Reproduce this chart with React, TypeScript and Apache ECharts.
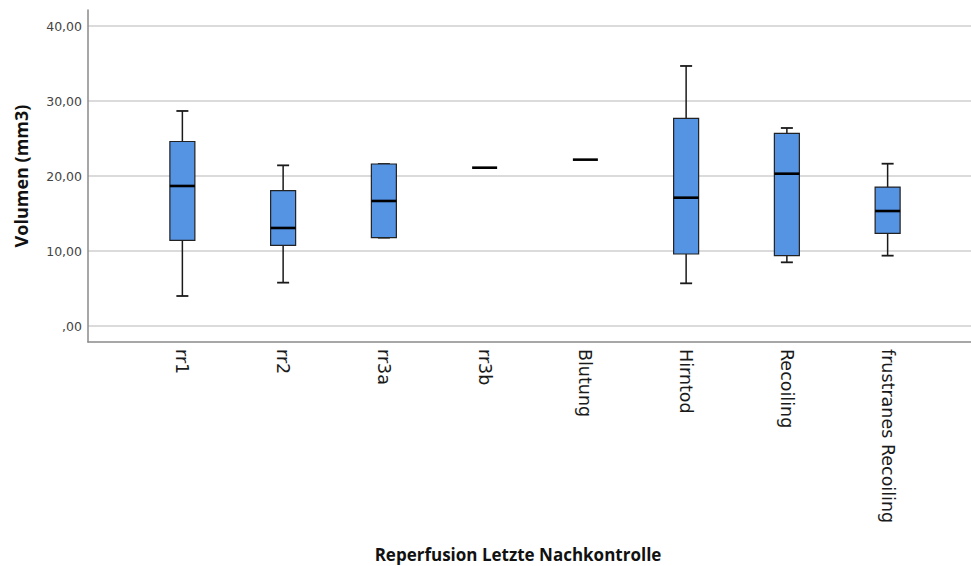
import React, { useEffect, useRef } from "react";
import * as echarts from "echarts";

const categories = ["rr1", "rr2", "rr3a", "rr3b", "Blutung", "Hirntod", "Recoiling", "frustranes Recoiling"];
// [min, q1, median, q3, max]
const mins = [4.0, 5.78, 11.78, 21.11, 22.18, 5.69, 8.49, 9.38];
const q1s = [11.42, 10.76, 11.78, 21.11, 22.18, 9.6, 9.38, 12.36];
const medians = [18.67, 13.07, 16.67, 21.11, 22.18, 17.11, 20.31, 15.33];
const q3s = [24.6, 18.04, 21.6, 21.11, 22.18, 27.69, 25.69, 18.53];
const maxs = [28.67, 21.42, 21.6, 21.11, 22.18, 34.67, 26.4, 21.64];
const yTicks = [0, 10, 20, 30, 40];

const fmt = (v: number) => (v === 0 ? ",00" : v.toFixed(2).replace(".", ","));

export default function App() {
  const ref = useRef<HTMLDivElement>(null);
  useEffect(() => {
    if (!ref.current) return;
    const chart = echarts.init(ref.current, undefined, { renderer: "svg" });
    const data = categories.map((_, i) => [i, mins[i], q1s[i], medians[i], q3s[i], maxs[i]]);
    const boxW = 25;
    const capW = 12;
    const option: any = {
      animation: false,
      backgroundColor: "#ffffff",
      title: {
        text: "Reperfusion Letzte Nachkontrolle",
        left: 518,
        top: 545,
        padding: 0,
        textAlign: "center",
        textStyle: { fontFamily: "Open Sans", fontWeight: "bold", fontSize: 17, lineHeight: 19, color: "#111" },
      },
      grid: [
        { left: 88, right: 0, top: 10, bottom: 224 },
        { left: 88, right: 0, top: 26, bottom: 240 },
        { left: 132, right: 33, top: 26, bottom: 240 },
      ],
      xAxis: [
        {
          gridIndex: 0, type: "value", min: 0, max: 1,
          axisLine: { show: true, onZero: false, lineStyle: { color: "#8a8a8a", width: 1.5 } },
          axisTick: { show: false }, axisLabel: { show: false }, splitLine: { show: false },
        },
        {
          gridIndex: 1, type: "value", min: 0, max: 1, show: false,
        },
        {
          gridIndex: 2, type: "category", data: categories,
          axisLine: { show: false }, axisTick: { show: false }, splitLine: { show: false },
          axisLabel: {
            rotate: -90, margin: 23, interval: 0,
            fontFamily: "DejaVu Sans", fontSize: 17.5, color: "#1a1a1a",
          },
        },
      ],
      yAxis: [
        {
          gridIndex: 0, type: "value", min: 0, max: 1,
          axisLine: { show: true, onZero: false, lineStyle: { color: "#8a8a8a", width: 1.5 } },
          axisTick: { show: false }, axisLabel: { show: false }, splitLine: { show: false },
        },
        {
          gridIndex: 1, type: "value", min: yTicks[0], max: yTicks[yTicks.length - 1], interval: 10,
          name: "Volumen (mm3)", nameLocation: "middle", nameGap: 58,
          nameTextStyle: { fontFamily: "Open Sans", fontWeight: "bold", fontSize: 18, color: "#111" },
          axisLine: { show: false }, axisTick: { show: false },
          axisLabel: { formatter: fmt, margin: 6, fontFamily: "DejaVu Sans", fontSize: 12.5, color: "#444" },
          splitLine: { show: true, lineStyle: { color: "#cfcfcf", width: 1.5 } },
        },
        {
          gridIndex: 2, type: "value", min: 0, max: 40, show: false,
        },
      ],
      series: [
        {
          type: "custom",
          xAxisIndex: 2,
          yAxisIndex: 2,
          clip: false,
          data,
          encode: { x: 0, y: [1, 2, 3, 4, 5] },
          renderItem: (params: any, api: any) => {
            const idx = api.value(0);
            const vMin = api.value(1), vQ1 = api.value(2), vMed = api.value(3), vQ3 = api.value(4), vMax = api.value(5);
            const cx = api.coord([idx, vMed])[0];
            const yMin = api.coord([idx, vMin])[1];
            const yQ1 = api.coord([idx, vQ1])[1];
            const yMed = api.coord([idx, vMed])[1];
            const yQ3 = api.coord([idx, vQ3])[1];
            const yMax = api.coord([idx, vMax])[1];
            const stroke = "#1a1a1a";
            const children: any[] = [];
            if (vQ3 > vQ1) {
              if (vMax > vQ3) {
                children.push({ type: "line", shape: { x1: cx, y1: yMax, x2: cx, y2: yQ3 }, style: { stroke, lineWidth: 1.5 } });
              }
              if (vMin < vQ1) {
                children.push({ type: "line", shape: { x1: cx, y1: yQ1, x2: cx, y2: yMin }, style: { stroke, lineWidth: 1.5 } });
              }
              children.push({ type: "line", shape: { x1: cx - capW / 2, y1: yMax, x2: cx + capW / 2, y2: yMax }, style: { stroke, lineWidth: 1.8 } });
              children.push({ type: "line", shape: { x1: cx - capW / 2, y1: yMin, x2: cx + capW / 2, y2: yMin }, style: { stroke, lineWidth: 1.8 } });
              children.push({
                type: "rect",
                shape: { x: cx - boxW / 2, y: yQ3, width: boxW, height: yQ1 - yQ3 },
                style: { fill: "#5593e3", stroke: "#222", lineWidth: 1.2 },
              });
            }
            children.push({
              type: "line",
              shape: { x1: cx - boxW / 2, y1: yMed, x2: cx + boxW / 2, y2: yMed },
              style: { stroke: "#000", lineWidth: 2.6 },
            });
            return { type: "group", children };
          },
        },
      ],
    };
    chart.setOption(option);
    return () => chart.dispose();
  }, []);
  return <div ref={ref} style={{ width: 971, height: 566, position: "absolute", left: 0, top: 0 }} />;
}
